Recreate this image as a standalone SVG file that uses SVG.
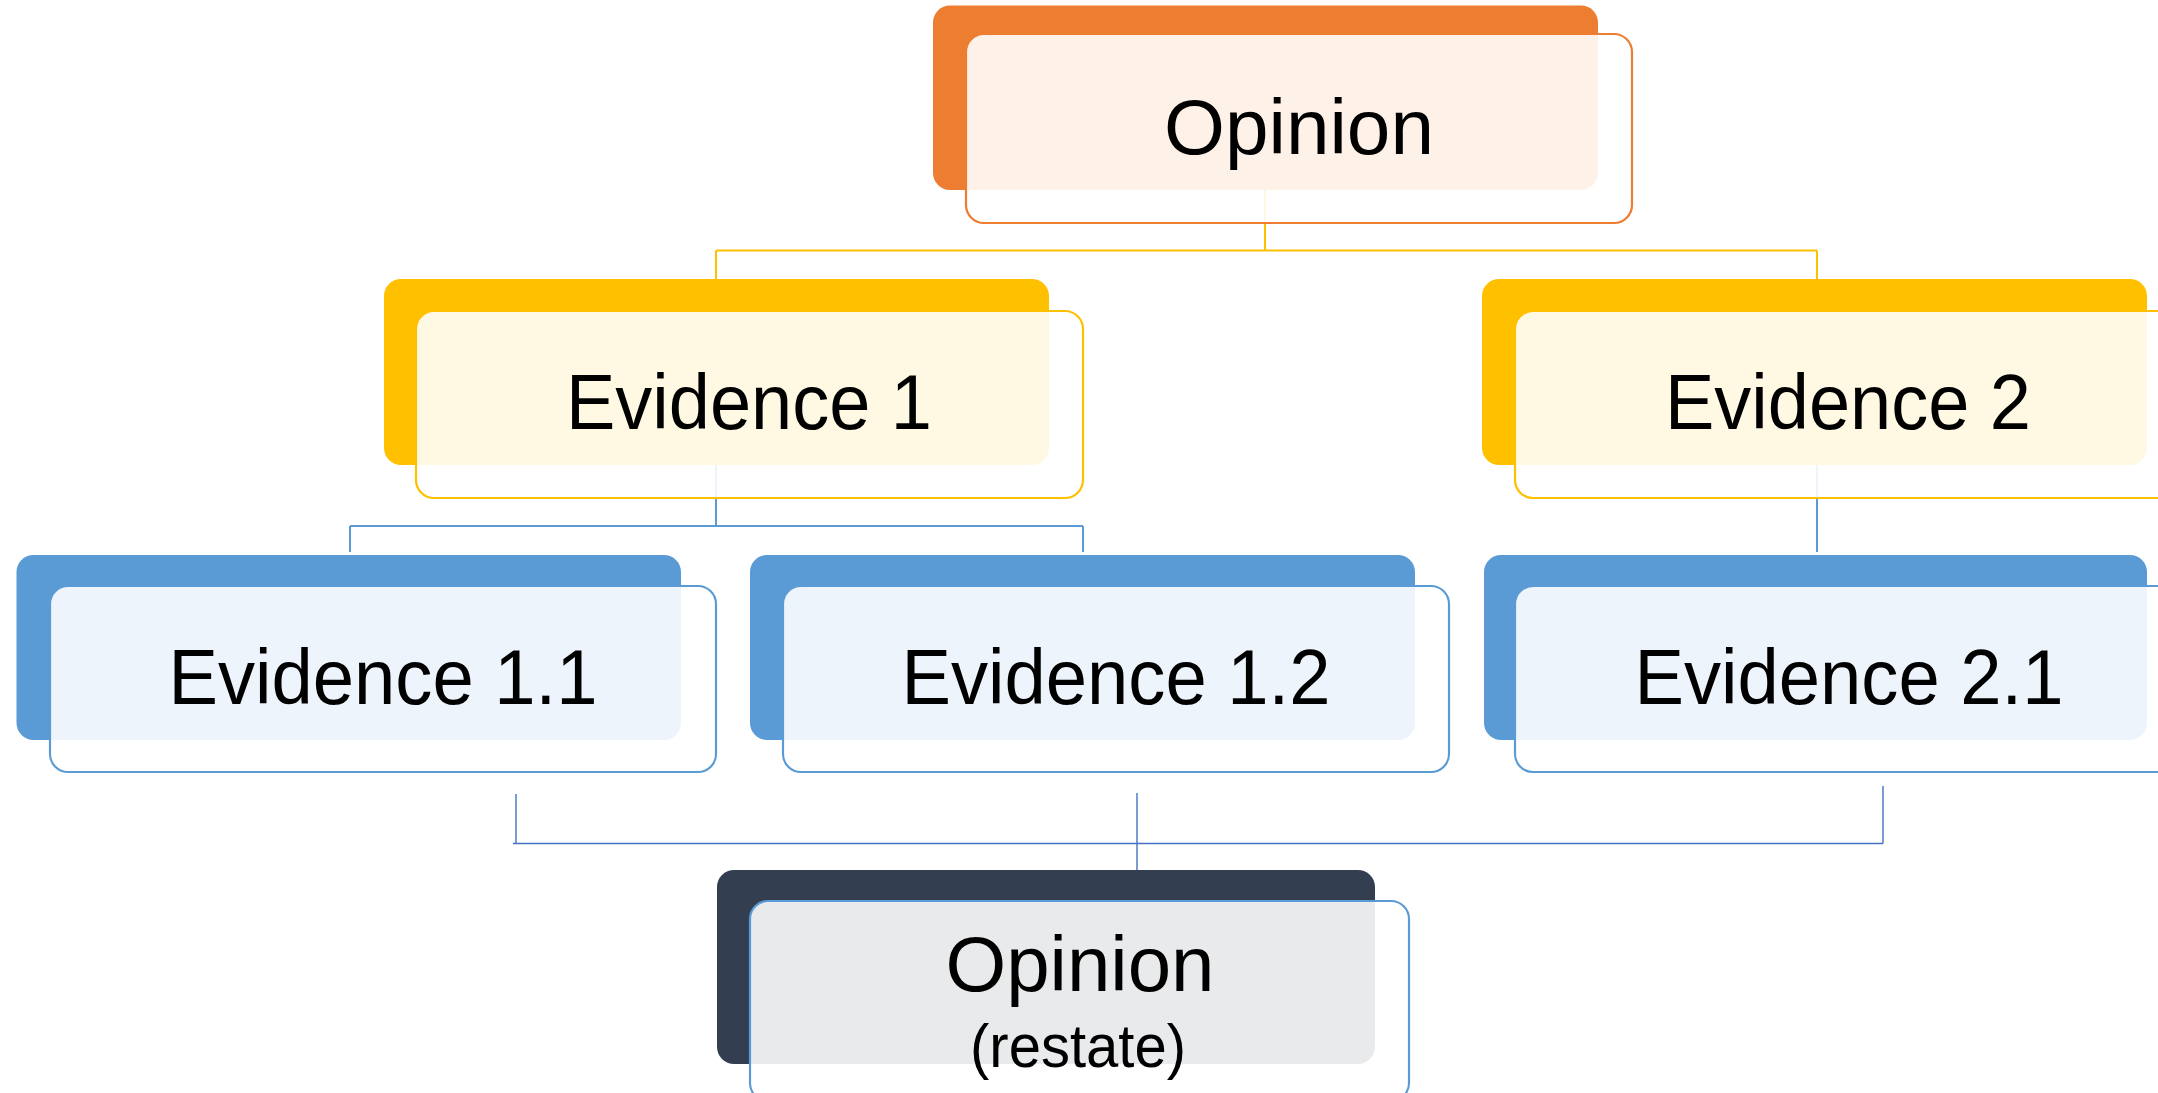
<svg xmlns="http://www.w3.org/2000/svg" width="2158" height="1093" viewBox="0 0 2158 1093">
<style>
.lbl{font-family:"Liberation Sans",Arial,sans-serif;fill:#000;text-anchor:middle}
.big{font-size:78px}
.small{font-size:62px}
.front{fill:#fff;fill-opacity:0.89;stroke-width:2.2}
.conY{stroke:#FFC000;stroke-width:2;fill:none}
.conB{stroke:#5B9BD5;stroke-width:2;fill:none}
.conT{stroke:#4472C4;stroke-width:1.4;fill:none}
</style>
<rect width="2158" height="1093" fill="#fff"/>
<g id="connectors">
<path class="conY" d="M1265 190 V250.5 M716 250.5 H1817 M716 250.5 V279 M1817 250.5 V279"/>
<path class="conB" d="M716 465 V526 M350 526 H1083 M350 526 V552 M1083 526 V552"/>
<path class="conB" d="M1817 465 V552"/>
<path class="conT" d="M516 794 V843.5 M513 843.5 H1883 M1883 786 V843.5 M1137 793 V870"/>
</g>
<g id="node-opinion">
<rect x="933" y="5.5" width="665" height="184.5" rx="17" fill="#ED7D31"/>
<rect class="front" x="966" y="34" width="666" height="189" rx="18" stroke="#ED7D31"/>
<text class="lbl big" x="1299" y="154" textLength="270" lengthAdjust="spacingAndGlyphs">Opinion</text>
</g>
<g id="node-evidence1">
<rect x="384" y="279" width="665" height="186" rx="17" fill="#FFC000"/>
<rect class="front" x="416" y="311" width="667" height="187" rx="18" stroke="#FFC000"/>
<text class="lbl big" x="749" y="429" textLength="366" lengthAdjust="spacingAndGlyphs">Evidence 1</text>
</g>
<g id="node-evidence2">
<rect x="1482" y="279" width="665" height="186" rx="17" fill="#FFC000"/>
<rect class="front" x="1515" y="311" width="667" height="187" rx="18" stroke="#FFC000"/>
<text class="lbl big" x="1848" y="429" textLength="366" lengthAdjust="spacingAndGlyphs">Evidence 2</text>
</g>
<g id="node-evidence11">
<rect x="16.5" y="555" width="664.5" height="185" rx="17" fill="#5B9BD5"/>
<rect class="front" x="50" y="586" width="666" height="186" rx="18" stroke="#5B9BD5"/>
<text class="lbl big" x="383" y="704" textLength="429" lengthAdjust="spacingAndGlyphs">Evidence 1.1</text>
</g>
<g id="node-evidence12">
<rect x="750" y="555" width="665" height="185" rx="17" fill="#5B9BD5"/>
<rect class="front" x="783" y="586" width="666" height="186" rx="18" stroke="#5B9BD5"/>
<text class="lbl big" x="1116" y="704" textLength="429" lengthAdjust="spacingAndGlyphs">Evidence 1.2</text>
</g>
<g id="node-evidence21">
<rect x="1484" y="555" width="663" height="185" rx="17" fill="#5B9BD5"/>
<rect class="front" x="1515" y="586" width="667" height="186" rx="18" stroke="#5B9BD5"/>
<text class="lbl big" x="1849" y="704" textLength="429" lengthAdjust="spacingAndGlyphs">Evidence 2.1</text>
</g>
<g id="node-opinion-restate">
<rect x="717" y="870" width="658" height="194" rx="17" fill="#333F50"/>
<rect class="front" x="750" y="901" width="659" height="200" rx="18" stroke="#5B9BD5"/>
<text class="lbl big" x="1080" y="991" textLength="269" lengthAdjust="spacingAndGlyphs">Opinion</text>
<text class="lbl small" x="1078" y="1067" textLength="216" lengthAdjust="spacingAndGlyphs">(restate)</text>
</g>
</svg>
